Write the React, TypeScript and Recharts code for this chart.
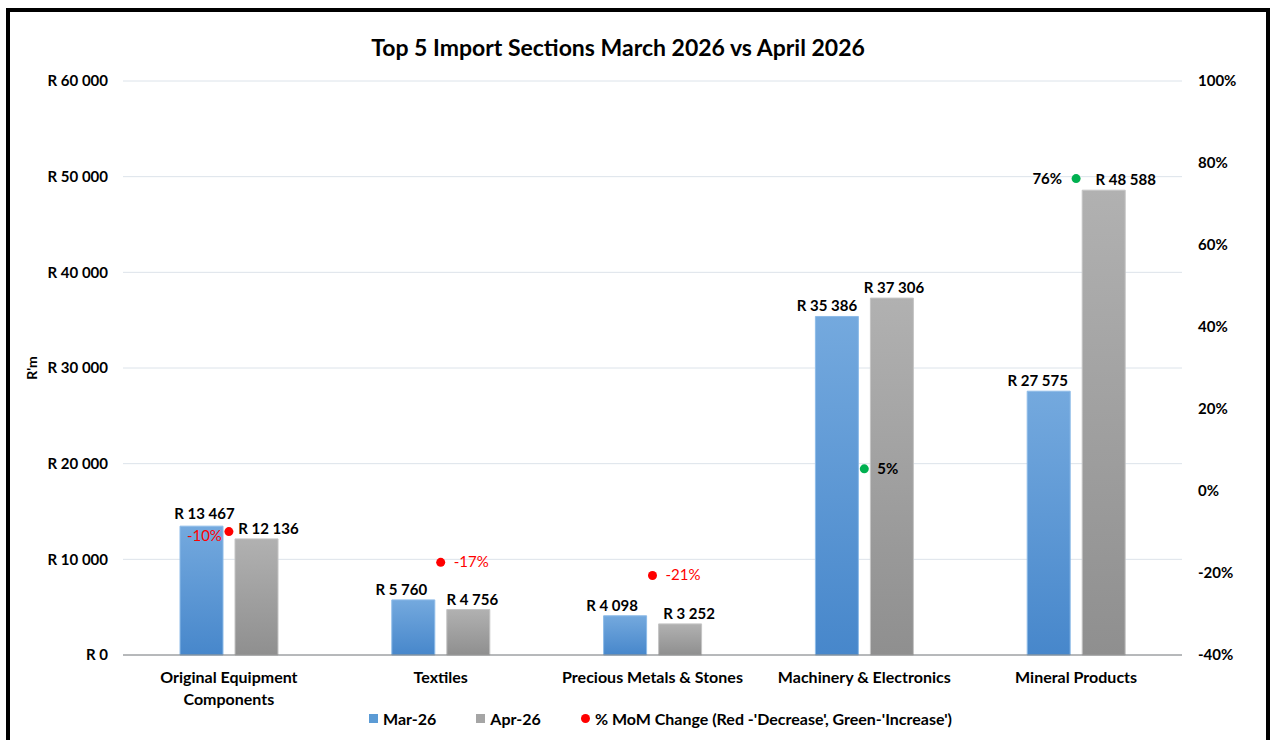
import React from "react";
import {
  ComposedChart,
  Bar,
  Scatter,
  XAxis,
  YAxis,
  CartesianGrid,
  Legend,
  LabelList,
  Text,
} from "recharts";

const categories = [
  "Original Equipment Components",
  "Textiles",
  "Precious Metals & Stones",
  "Machinery & Electronics",
  "Mineral Products",
];
const mar26 = [13467, 5760, 4098, 35386, 27575];
const apr26 = [12136, 4756, 3252, 37306, 48588];
const momChange = [-0.099, -0.174, -0.206, 0.054, 0.762];

const leftTicks = [0, 10000, 20000, 30000, 40000, 50000, 60000];
const rightTicks = [-0.4, -0.2, 0, 0.2, 0.4, 0.6, 0.8, 1.0];

const data = categories.map((name, i) => ({
  name,
  mar: mar26[i],
  apr: apr26[i],
  pct: momChange[i],
}));

const FONT = "Lato, 'Open Sans', sans-serif";
const RED = "#ff0000";
const GREEN = "#00b050";

const fmtRand = (v: number) =>
  "R " + String(Math.round(v)).replace(/\B(?=(\d{3})+(?!\d))/g, " ");

// small label nudges so text matches the original placement
const marNudge = [3, -12, -13, -10, -11];
const aprNudge = [12, 4, 9, 2, 22];
const pctDx = [-7, 13, 13, 13, -14];
const pctDy = [9, 5, 5, 5, 5];

function barLabel(nudge: number[]) {
  return (props: any) => {
    const { x, y, width, value, index } = props;
    return (
      <text
        x={x + width / 2 + nudge[index]}
        y={y - 5 - (index === 0 && nudge === marNudge ? 2 : 0)}
        textAnchor="middle"
        fontFamily={FONT}
        fontWeight={700}
        fontSize={15}
        fill="#000"
      >
        {fmtRand(value)}
      </text>
    );
  };
}

function PctDot(props: any) {
  const { cx, cy, payload, index } = props;
  const neg = payload.pct < 0;
  const dx = pctDx[index];
  return (
    <g>
      <circle cx={cx} cy={cy} r={4.5} fill={neg ? RED : GREEN} />
      <text
        x={cx + dx}
        y={cy + pctDy[index]}
        textAnchor={dx < 0 ? "end" : "start"}
        fontFamily={FONT}
        fontWeight={neg ? 400 : 700}
        fontSize={15}
        fill={neg ? RED : "#000"}
      >
        {Math.round(payload.pct * 100) + "%"}
      </text>
    </g>
  );
}

function CatTick(props: any) {
  const { x, y, payload } = props;
  return (
    <Text
      x={x}
      y={y}
      width={200}
      textAnchor="middle"
      verticalAnchor="start"
      fontFamily={FONT}
      fontWeight={700}
      fontSize={16}
      fill="#000"
      lineHeight={22}
    >
      {payload.value}
    </Text>
  );
}

function LegendBox() {
  const item = { display: "flex", alignItems: "center", gap: 5 } as const;
  return (
    <div
      style={{
        height: 20,
        display: "flex",
        justifyContent: "center",
        alignItems: "center",
        gap: 40,
        paddingLeft: 46,
        fontFamily: FONT,
        fontWeight: 700,
        fontSize: 16,
        color: "#000",
      }}
    >
      <span style={item}>
        <span style={{ width: 9, height: 9, background: "#5b9bd5" }} />
        Mar-26
      </span>
      <span style={item}>
        <span style={{ width: 9, height: 9, background: "#a5a5a5" }} />
        Apr-26
      </span>
      <span style={item}>
        <span style={{ width: 9, height: 9, borderRadius: "50%", background: RED }} />
        % MoM Change (Red -'Decrease', Green-'Increase')
      </span>
    </div>
  );
}

export default function App() {
  return (
    <div
      style={{
        position: "absolute",
        left: 6,
        top: 8,
        width: 1256,
        height: 760,
        border: "4px solid #000",
        background: "#fff",
      }}
    >
      <div
        style={{
          position: "absolute",
          top: 21,
          left: 0,
          width: 1216,
          textAlign: "center",
          fontFamily: FONT,
          fontWeight: 700,
          fontSize: 23,
          lineHeight: "28px",
          color: "#000",
        }}
      >
        Top 5 Import Sections March 2026 vs April 2026
      </div>
      <ComposedChart
        width={1256}
        height={728}
        data={data}
        margin={{ top: 69, right: 14, left: 13, bottom: 12 }}
        barGap={12}
        barSize={43}
      >
        <defs>
          <linearGradient id="gBlue" x1="0" y1="0" x2="0" y2="1">
            <stop offset="0%" stopColor="#74a9de" />
            <stop offset="100%" stopColor="#4787cb" />
          </linearGradient>
          <linearGradient id="gGray" x1="0" y1="0" x2="0" y2="1">
            <stop offset="0%" stopColor="#b1b1b1" />
            <stop offset="100%" stopColor="#8f8f8f" />
          </linearGradient>
        </defs>
        <CartesianGrid yAxisId="left" vertical={false} stroke="#dce3ea" />
        <XAxis
          dataKey="name"
          height={53}
          tick={<CatTick />}
          tickLine={false}
          tickSize={0}
          tickMargin={17}
          axisLine={{ stroke: "#808080" }}
          interval={0}
        />
        <YAxis
          yAxisId="left"
          width={100}
          domain={[0, 60000]}
          ticks={leftTicks}
          tickFormatter={fmtRand}
          tickLine={false}
          axisLine={false}
          tickSize={0}
          tickMargin={15}
          tick={{ fontFamily: FONT, fontWeight: 700, fontSize: 15, fill: "#000" }}
          label={{
            value: "R'm",
            angle: -90,
            position: "insideLeft",
            offset: 9,
            style: { textAnchor: "middle", fontFamily: FONT, fontWeight: 700, fontSize: 14, fill: "#000" },
          }}
        />
        <YAxis
          yAxisId="right"
          orientation="right"
          width={70}
          domain={[-0.4, 1.0]}
          ticks={rightTicks}
          tickFormatter={(v: number) => Math.round(v * 100) + "%"}
          tickLine={false}
          axisLine={false}
          tickSize={0}
          tickMargin={16}
          tick={{ fontFamily: FONT, fontWeight: 700, fontSize: 15, fill: "#000" }}
        />
        <Legend verticalAlign="bottom" content={<LegendBox />} />
        <Bar
          yAxisId="left"
          dataKey="mar"
          name="Mar-26"
          fill="url(#gBlue)"
          stroke="#8dbbe8"
          strokeWidth={1}
          isAnimationActive={false}
        >
          <LabelList dataKey="mar" content={barLabel(marNudge)} />
        </Bar>
        <Bar
          yAxisId="left"
          dataKey="apr"
          name="Apr-26"
          fill="url(#gGray)"
          stroke="#c4c4c4"
          strokeWidth={1}
          isAnimationActive={false}
        >
          <LabelList dataKey="apr" content={barLabel(aprNudge)} />
        </Bar>
        <Scatter
          yAxisId="right"
          dataKey="pct"
          name="% MoM Change"
          shape={<PctDot />}
          isAnimationActive={false}
        />
      </ComposedChart>
    </div>
  );
}
